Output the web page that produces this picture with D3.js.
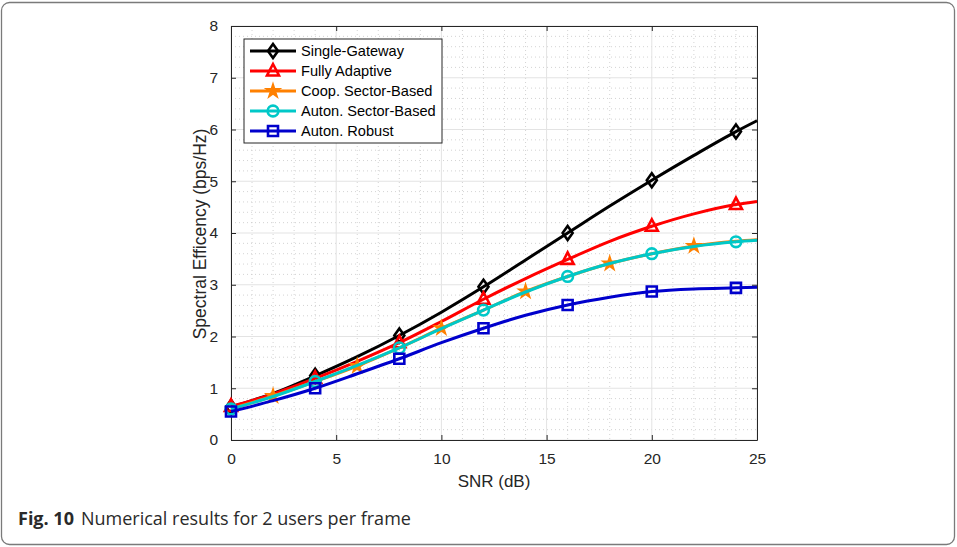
<!DOCTYPE html>
<html>
<head>
<meta charset="utf-8">
<script src="https://cdn.jsdelivr.net/npm/d3@7"></script>
<style>
  body { margin: 0; background: #fff; }
  svg { display: block; }
</style>
</head>
<body>
<div id="chart"></div>
<script>
// SNR sample points (dB) shared by all curves
const snr = [0, 2, 4, 6, 8, 10, 12, 14, 16, 18, 20, 22, 24, 25];

// Spectral efficiency (bps/Hz)
const singleGateway = [0.64, 0.90, 1.24, 1.61, 2.02, 2.47, 2.96, 3.48, 4.00, 4.52, 5.02, 5.50, 5.96, 6.17];
const fullyAdaptive = [0.65, 0.89, 1.19, 1.52, 1.88, 2.29, 2.72, 3.12, 3.49, 3.84, 4.13, 4.37, 4.55, 4.61];
const coopSector    = [0.60, 0.85, 1.13, 1.43, 1.78, 2.16, 2.51, 2.87, 3.16, 3.41, 3.60, 3.75, 3.84, 3.87];
const autonSector   = [0.60, 0.84, 1.13, 1.44, 1.78, 2.15, 2.51, 2.86, 3.16, 3.41, 3.60, 3.74, 3.83, 3.86];
const autonRobust   = [0.55, 0.76, 1.00, 1.28, 1.57, 1.88, 2.16, 2.41, 2.61, 2.76, 2.87, 2.92, 2.94, 2.95];

// Where markers sit on each curve
const markersEvery4 = [0, 4, 8, 12, 16, 20, 24];
const markersOffset = [2, 6, 10, 14, 18, 22];

const xTicks = [0, 5, 10, 15, 20, 25];
const yTicks = [0, 1, 2, 3, 4, 5, 6, 7, 8];

const series = [
  { name: "Single-Gateway", values: singleGateway, color: "#000000", marker: "diamond", at: markersEvery4 },
  { name: "Fully Adaptive", values: fullyAdaptive, color: "#ff0000", marker: "triangle", at: markersEvery4 },
  { name: "Coop. Sector-Based", values: coopSector, color: "#ff8000", marker: "star", at: markersOffset },
  { name: "Auton. Sector-Based", values: autonSector, color: "#00c8c8", marker: "circle", at: markersEvery4 },
  { name: "Auton. Robust", values: autonRobust, color: "#0000cc", marker: "square", at: markersEvery4 }
];

const W = 957, H = 547;
const margin = { left: 231, right: 200, top: 26, bottom: 107 };
const pw = W - margin.left - margin.right;
const ph = H - margin.top - margin.bottom;

const svg = d3.select("#chart").append("svg")
  .attr("width", W)
  .attr("height", H);

// Outer figure frame with caption
svg.append("rect")
  .attr("x", 1.5).attr("y", 2.5)
  .attr("width", W - 4).attr("height", H - 5)
  .attr("rx", 8).attr("ry", 8)
  .attr("fill", "#fff")
  .attr("stroke", "#7a7a7a")
  .attr("stroke-width", 1.3);

const caption = svg.append("text")
  .attr("x", 18).attr("y", 525)
  .attr("font-family", "'Open Sans', sans-serif")
  .attr("font-size", "18px")
  .attr("fill", "#2a2a2a");
caption.append("tspan").attr("font-weight", "bold").text("Fig. 10");
caption.append("tspan").attr("dx", 7).text("Numerical results for 2 users per frame");

const x = d3.scaleLinear().domain([0, 25]).range([0, pw]);
const y = d3.scaleLinear().domain([0, 8]).range([ph, 0]);

const g = svg.append("g").attr("transform", `translate(${margin.left},${margin.top})`);

// Minor grid (dotted)
g.append("g").selectAll("line")
  .data(d3.range(0, 26, 1).filter(d => d % 5 !== 0))
  .enter().append("line")
  .attr("x1", d => x(d)).attr("x2", d => x(d))
  .attr("y1", 0).attr("y2", ph)
  .attr("stroke", "#c8c8c8").attr("stroke-width", 0.8)
  .attr("stroke-dasharray", "1,3");
g.append("g").selectAll("line")
  .data(d3.range(0, 8.01, 0.2).filter(d => Math.abs(d - Math.round(d)) > 0.01))
  .enter().append("line")
  .attr("x1", 0).attr("x2", pw)
  .attr("y1", d => y(d)).attr("y2", d => y(d))
  .attr("stroke", "#c8c8c8").attr("stroke-width", 0.8)
  .attr("stroke-dasharray", "1,3");

// Major grid
g.append("g").selectAll("line")
  .data(xTicks)
  .enter().append("line")
  .attr("x1", d => x(d)).attr("x2", d => x(d))
  .attr("y1", 0).attr("y2", ph)
  .attr("stroke", "#e3e3e3").attr("stroke-width", 1);
g.append("g").selectAll("line")
  .data(yTicks)
  .enter().append("line")
  .attr("x1", 0).attr("x2", pw)
  .attr("y1", d => y(d)).attr("y2", d => y(d))
  .attr("stroke", "#e3e3e3").attr("stroke-width", 1);

// Axes with inward ticks (MATLAB style)
const tickFont = "'Liberation Sans', Arial, sans-serif";
const xAxis = g.append("g")
  .attr("transform", `translate(0,${ph})`)
  .call(d3.axisBottom(x).tickValues(xTicks).tickSizeInner(-5).tickSizeOuter(0).tickPadding(13));
const yAxis = g.append("g")
  .call(d3.axisLeft(y).tickValues(yTicks).tickSizeInner(-5).tickSizeOuter(0).tickPadding(13));
const xTop = g.append("g")
  .call(d3.axisTop(x).tickValues(xTicks).tickSizeInner(-5).tickSizeOuter(0).tickFormat(""));
const yRight = g.append("g")
  .attr("transform", `translate(${pw},0)`)
  .call(d3.axisRight(y).tickValues(yTicks).tickSizeInner(-5).tickSizeOuter(0).tickFormat(""));

[xAxis, yAxis, xTop, yRight].forEach(a => {
  a.select(".domain").attr("stroke", "#262626").attr("stroke-width", 1);
  a.selectAll(".tick line").attr("stroke", "#262626");
  a.selectAll("text")
    .attr("font-family", tickFont)
    .attr("font-size", "15.5px")
    .attr("fill", "#262626");
});

// Axis labels
g.append("text")
  .attr("x", pw / 2).attr("y", ph + 47)
  .attr("text-anchor", "middle")
  .attr("font-family", tickFont).attr("font-size", "17px").attr("fill", "#262626")
  .text("SNR (dB)");
g.append("text")
  .attr("transform", `translate(-25,${ph / 2 + 1}) rotate(-90)`)
  .attr("text-anchor", "middle")
  .attr("font-family", tickFont).attr("font-size", "17.5px").attr("fill", "#262626")
  .text("Spectral Efficency (bps/Hz)");

// Marker shapes
function markerPath(type) {
  switch (type) {
    case "diamond": return "M0,-7L5,0L0,7L-5,0Z";
    case "triangle": return "M0,-7L6,4.5L-6,4.5Z";
    case "square": return "M-5,-5L5,-5L5,5L-5,5Z";
    case "circle": return d3.symbol(d3.symbolCircle, 90)();
    case "star": return d3.symbol(d3.symbolStar, 60)();
  }
}

const line = d3.line()
  .x(d => x(d[0]))
  .y(d => y(d[1]))
  .curve(d3.curveMonotoneX);

const plot = g.append("g");

series.forEach(s => {
  const pts = snr.map((v, i) => [v, s.values[i]]);
  plot.append("path")
    .datum(pts)
    .attr("fill", "none")
    .attr("stroke", s.color)
    .attr("stroke-width", 3)
    .attr("d", line);

  const mk = pts.filter(p => s.at.includes(p[0]));
  plot.append("g").selectAll("path")
    .data(mk)
    .enter().append("path")
    .attr("transform", d => `translate(${x(d[0])},${y(d[1])})`)
    .attr("d", markerPath(s.marker))
    .attr("fill", s.marker === "star" ? s.color : "none")
    .attr("stroke", s.color)
    .attr("stroke-width", s.marker === "star" ? 1.5 : 2.6);
});

// Legend
const lg = g.append("g").attr("transform", "translate(13,13)");
lg.append("rect")
  .attr("width", 198).attr("height", 104)
  .attr("fill", "#fff")
  .attr("stroke", "#262626").attr("stroke-width", 1);

series.forEach((s, i) => {
  const row = lg.append("g").attr("transform", `translate(0,${12 + i * 20})`);
  row.append("line")
    .attr("x1", 6).attr("x2", 52)
    .attr("stroke", s.color).attr("stroke-width", 3);
  row.append("path")
    .attr("transform", "translate(29,0)")
    .attr("d", markerPath(s.marker))
    .attr("fill", s.marker === "star" ? s.color : "none")
    .attr("stroke", s.color)
    .attr("stroke-width", s.marker === "star" ? 1.5 : 2.6);
  row.append("text")
    .attr("x", 57).attr("y", 5)
    .attr("font-family", tickFont).attr("font-size", "14.6px").attr("fill", "#000")
    .text(s.name);
});
</script>
</body>
</html>
